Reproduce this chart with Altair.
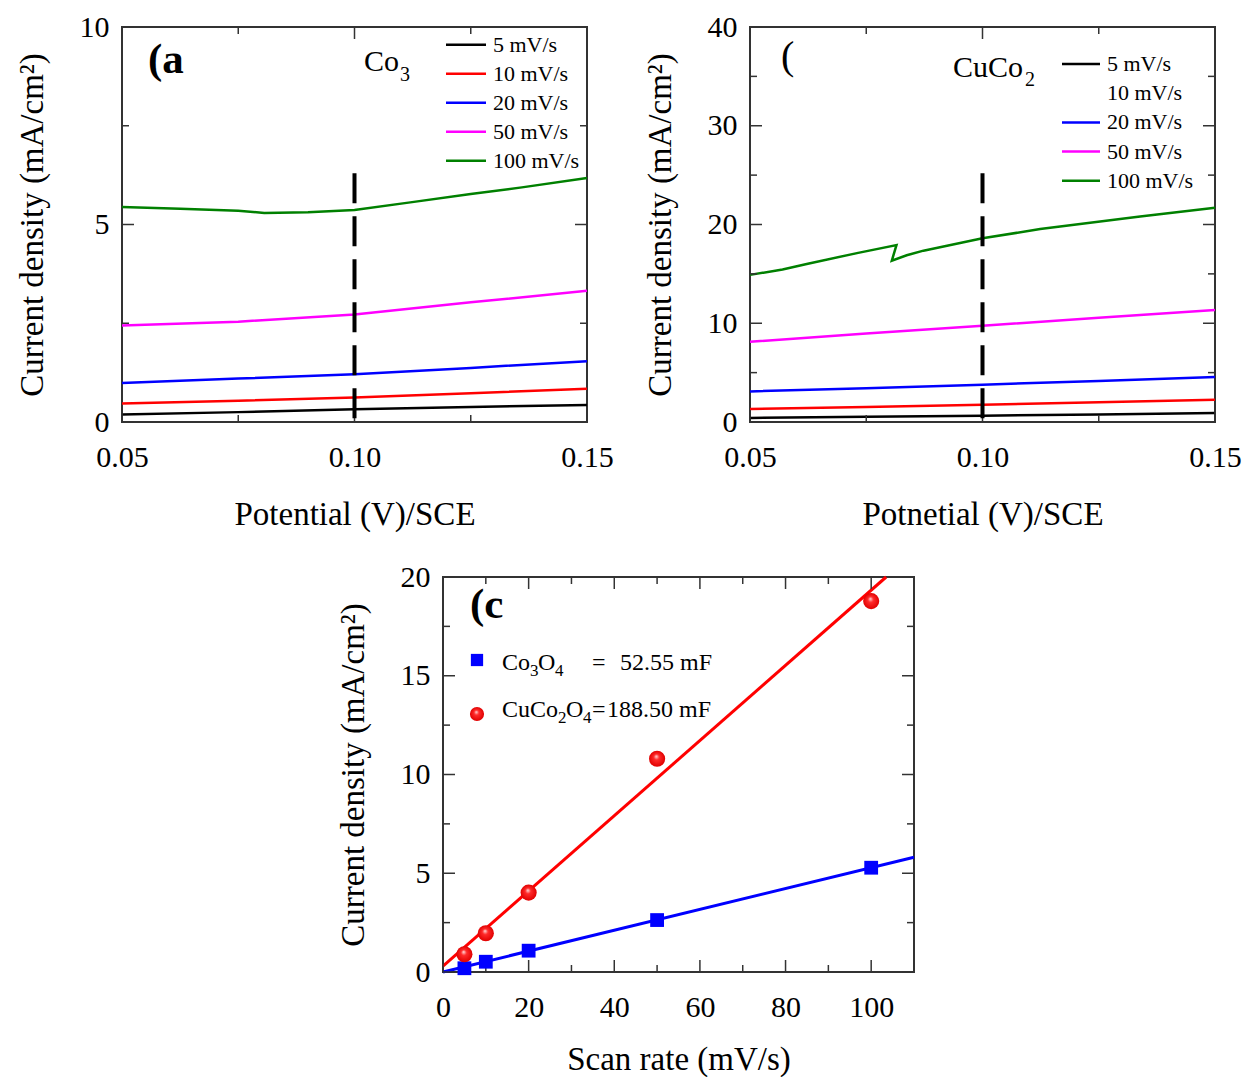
import altair as alt
import pandas as pd

FONT = "Liberation Serif"

# ---------------- data ----------------
# Panel (a): Co3O4, current density (mA/cm2) vs potential (V)
a_x = [0.05, 0.075, 0.10, 0.125, 0.15]
a_5 = [0.19, 0.25, 0.32, 0.38, 0.43]
a_10 = [0.47, 0.54, 0.62, 0.73, 0.84]
a_20 = [0.99, 1.10, 1.21, 1.37, 1.54]
a_50 = [2.44, 2.54, 2.72, 3.03, 3.32]
a100_x = [0.05, 0.0625, 0.075, 0.0806, 0.090, 0.100, 0.112, 0.125, 0.136, 0.150]
a100_y = [5.44, 5.40, 5.35, 5.29, 5.31, 5.37, 5.56, 5.77, 5.94, 6.18]

# Panel (b): CuCo2O4
b_x = [0.05, 0.075, 0.10, 0.125, 0.15]
b_5 = [0.41, 0.52, 0.64, 0.77, 0.91]
b_10 = [1.32, 1.53, 1.75, 2.00, 2.26]
b_20 = [3.10, 3.43, 3.78, 4.15, 4.56]
b_50 = [8.13, 8.95, 9.75, 10.55, 11.34]
b100_x = [0.05, 0.057, 0.0622, 0.073, 0.0815, 0.0805, 0.0837, 0.0873, 0.100, 0.1124, 0.1339, 0.15]
b100_y = [14.9, 15.44, 16.0, 17.1, 17.92, 16.34, 16.88, 17.35, 18.6, 19.54, 20.8, 21.7]

series_labels = ["5 mV/s", "10 mV/s", "20 mV/s", "50 mV/s", "100 mV/s"]
series_colors = ["#000000", "#ff0000", "#0000ff", "#ff00ff", "#008000"]

dash_x = 0.10
dash_top_a = 6.3
dash_top_b = 25.2

# Panel (c): current density vs scan rate
scan = [5, 10, 20, 50, 100]
co3o4 = [0.19, 0.52, 1.08, 2.63, 5.28]
cuco2o4 = [0.90, 1.96, 4.02, 10.8, 18.78]
co_fit_x = [0, 110]
co_fit_y = [0.0, 5.81]
cu_fit_x = [0, 103.5]
cu_fit_y = [0.30, 20.0]

# ---------------- helpers ----------------
W_AB, H_AB = 465, 395
W_C, H_C = 471, 395
TICK_COLOR = "#333333"


def sc(dom):
    return alt.Scale(domain=dom, nice=False, zero=False)


def inward_ticks(xdom, ydom, xmaj, xmin, ymaj, ymin, w, h, lmaj=12, lmin=7):
    layers = []
    for vals, L in ((ymaj, lmaj), (ymin, lmin)):
        base = alt.Chart(pd.DataFrame({"y": vals})).mark_rule(color=TICK_COLOR, strokeWidth=1.5)
        yenc = alt.Y("y:Q", scale=sc(ydom))
        layers.append(base.encode(y=yenc, x=alt.value(0), x2=alt.value(L)))
        layers.append(base.encode(y=yenc, x=alt.value(w), x2=alt.value(w - L)))
    for vals, L in ((xmaj, lmaj), (xmin, lmin)):
        base = alt.Chart(pd.DataFrame({"x": vals})).mark_rule(color=TICK_COLOR, strokeWidth=1.5)
        xenc = alt.X("x:Q", scale=sc(xdom))
        layers.append(base.encode(x=xenc, y=alt.value(h), y2=alt.value(h - L)))
        layers.append(base.encode(x=xenc, y=alt.value(0), y2=alt.value(L)))
    return layers


def txt(s, x, y, size, bold=False, align="left", baseline="alphabetic"):
    return alt.Chart(pd.DataFrame({"t": [s]})).mark_text(
        font=FONT, fontSize=size, fontWeight="bold" if bold else "normal",
        align=align, baseline=baseline, color="black"
    ).encode(x=alt.value(x), y=alt.value(y), text="t:N")


def line_legend(x0, x1, xt, y0, dy, show):
    layers = []
    for i, (lab, col) in enumerate(zip(series_labels, series_colors)):
        yy = y0 + dy * i
        if show[i]:
            layers.append(
                alt.Chart(pd.DataFrame({"t": [lab]})).mark_rule(color=col, strokeWidth=2.5)
                .encode(x=alt.value(x0), x2=alt.value(x1), y=alt.value(yy))
            )
        layers.append(txt(lab, xt, yy + 7, 22))
    return layers


def cv_frame(xs_list, ys_list, x100, y100):
    rows = []
    for lab, xs, ys in zip(series_labels[:4], xs_list, ys_list):
        for i, (xv, yv) in enumerate(zip(xs, ys)):
            rows.append({"x": xv, "y": yv, "s": lab, "i": i})
    for i, (xv, yv) in enumerate(zip(x100, y100)):
        rows.append({"x": xv, "y": yv, "s": series_labels[4], "i": i})
    return pd.DataFrame(rows)


def cv_panel(df, ydom, ymaj, ymin, dash_top, xtitle, annots, legend_layers):
    xdom = [0.05, 0.15]
    lines = alt.Chart(df).mark_line(strokeWidth=2.5).encode(
        x=alt.X("x:Q", scale=sc(xdom),
                axis=alt.Axis(values=[0.05, 0.10, 0.15], format=".2f", title=xtitle,
                              labelPadding=20, titlePadding=26, labelFlush=False)),
        y=alt.Y("y:Q", scale=sc(ydom),
                axis=alt.Axis(values=ymaj, format="d", title="Current density (mA/cm²)",
                              labelPadding=13, titlePadding=30, labelFlush=False)),
        color=alt.Color("s:N", scale=alt.Scale(domain=series_labels, range=series_colors), legend=None),
        order="i:Q",
    )
    dash = alt.Chart(pd.DataFrame({"x": [dash_x], "y": [dash_top], "y2": [ydom[0]]})).mark_rule(
        color="black", strokeWidth=4, strokeDash=[30, 13]
    ).encode(x=alt.X("x:Q", scale=sc(xdom)),
             y=alt.Y("y:Q", scale=sc(ydom)), y2="y2:Q")
    ticks = inward_ticks(xdom, ydom, [0.05, 0.10, 0.15], [0.075, 0.125], ymaj, ymin, W_AB, H_AB)
    return alt.layer(lines, *ticks, dash, *legend_layers, *annots).properties(width=W_AB, height=H_AB)


# ---------------- panel (a) ----------------
df_a = cv_frame([a_x] * 4, [a_5, a_10, a_20, a_50], a100_x, a100_y)
annot_a = [txt("(a", 26, 46, 43, bold=True), txt("Co", 242, 44, 30), txt("3", 278, 54, 20)]
leg_a = line_legend(324, 364, 371, 17.7, 29, [True] * 5)
panel_a = cv_panel(df_a, [0, 10], [0, 5, 10], [2.5, 7.5], dash_top_a, "Potential (V)/SCE", annot_a, leg_a)

# ---------------- panel (b) ----------------
df_b = cv_frame([b_x] * 4, [b_5, b_10, b_20, b_50], b100_x, b100_y)
annot_b = [txt("(", 31, 42, 40), txt("CuCo", 203, 50, 30), txt("2", 275, 59, 20)]
leg_b = line_legend(312, 350, 357, 37, 29.2, [True, False, True, True, True])
panel_b = cv_panel(df_b, [0, 40], [0, 10, 20, 30, 40], [5, 15, 25, 35], dash_top_b,
                   "Potnetial (V)/SCE", annot_b, leg_b)

# ---------------- panel (c) ----------------
xdom_c = [0, 110]
ydom_c = [0, 20]

xenc_c = alt.X("x:Q", scale=sc(xdom_c),
               axis=alt.Axis(values=[0, 20, 40, 60, 80, 100], format="d", title="Scan rate (mV/s)",
                             labelPadding=20, titlePadding=21, labelFlush=False))
yenc_c = alt.Y("y:Q", scale=sc(ydom_c),
               axis=alt.Axis(values=[0, 5, 10, 15, 20], format="d", title="Current density (mA/cm²)",
                             labelPadding=13, titlePadding=30, labelFlush=False))
xenc_c2 = alt.X("x:Q", scale=sc(xdom_c))
yenc_c2 = alt.Y("y:Q", scale=sc(ydom_c))

fit_co = alt.Chart(pd.DataFrame({"x": co_fit_x, "y": co_fit_y})).mark_line(
    strokeWidth=3, color="#0000ff").encode(x=xenc_c, y=yenc_c)
fit_cu = alt.Chart(pd.DataFrame({"x": cu_fit_x, "y": cu_fit_y})).mark_line(
    strokeWidth=3, color="#ff0000").encode(x=xenc_c2, y=yenc_c2)

sphere = alt.RadialGradient(
    gradient="radial",
    stops=[alt.GradientStop(offset=0, color="#ffe0e0"),
           alt.GradientStop(offset=0.35, color="#ff2a2a"),
           alt.GradientStop(offset=1, color="#e00000")],
    x1=0.45, y1=0.35, r1=0, x2=0.5, y2=0.5, r2=0.5,
)
squares = alt.Chart(pd.DataFrame({"x": scan, "y": co3o4})).mark_square(
    size=190, color="#0000ff", opacity=1).encode(x=xenc_c2, y=yenc_c2)
circles = alt.Chart(pd.DataFrame({"x": scan, "y": cuco2o4})).mark_point(
    shape="circle", filled=True, fill=sphere, size=260, opacity=1, strokeWidth=0
).encode(x=xenc_c2, y=yenc_c2)

ticks_c = inward_ticks(xdom_c, ydom_c, [0, 20, 40, 60, 80, 100], [10, 30, 50, 70, 90],
                       [0, 5, 10, 15, 20], [2.5, 7.5, 12.5, 17.5], W_C, H_C)

leg_sq = alt.Chart(pd.DataFrame({"t": ["Co3O4"]})).mark_square(size=150, color="#0000ff", opacity=1).encode(
    x=alt.value(34), y=alt.value(83))
leg_ci = alt.Chart(pd.DataFrame({"t": ["CuCo2O4"]})).mark_point(
    shape="circle", filled=True, fill=sphere, size=200, opacity=1, strokeWidth=0).encode(
    x=alt.value(34), y=alt.value(137))
annot_c = [
    txt("(c", 27, 41, 43, bold=True),
    txt("Co", 59, 93, 24), txt("3", 87, 99, 17), txt("O", 95, 93, 24), txt("4", 112, 99, 17),
    txt("=", 149, 93, 24), txt("52.55 mF", 177, 93, 24),
    txt("CuCo", 59, 140, 24), txt("2", 115, 146, 17), txt("O", 123, 140, 24), txt("4", 140, 146, 17),
    txt("=", 149, 140, 24), txt("188.50 mF", 164, 140, 24),
]
panel_c = alt.layer(fit_co, fit_cu, *ticks_c, squares, circles, leg_sq, leg_ci, *annot_c).properties(
    width=W_C, height=H_C)

spacer = alt.Chart(pd.DataFrame({"x": [0]})).mark_point(opacity=0).encode(
    x=alt.X("x:Q", axis=None), y=alt.Y("x:Q", axis=None)
).properties(width=214, height=10, view=alt.ViewBackground(stroke="transparent", strokeWidth=0))

top = alt.hconcat(panel_a, panel_b, spacing=28)
bottom = alt.hconcat(spacer, panel_c, spacing=0)

chart = alt.vconcat(top, bottom, spacing=29).properties(
    padding={"left": 15, "top": 11, "right": 0, "bottom": 0}
).configure_axis(
    labelFont=FONT, labelFontSize=30, titleFont=FONT, titleFontSize=33, titleFontWeight="normal",
    labelColor="black", titleColor="black", grid=False, ticks=False, tickSize=0, domain=False,
).configure_view(stroke="#333333", strokeWidth=2)

chart.save("out.html", embed_options={"renderer": "svg", "actions": False})
